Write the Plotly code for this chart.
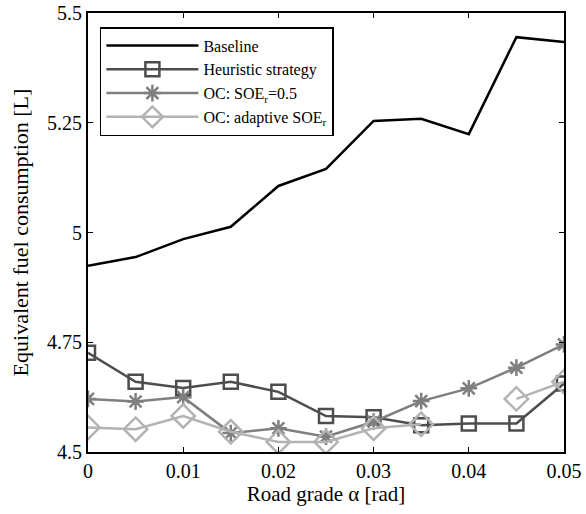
import plotly.graph_objects as go

# Road grade [rad]
grade = [0, 0.005, 0.01, 0.015, 0.02, 0.025, 0.03, 0.035, 0.04, 0.045, 0.05]

# Equivalent fuel consumption [L]
baseline = [4.924, 4.944, 4.985, 5.013, 5.106, 5.145, 5.254, 5.259, 5.224, 5.445, 5.434]
heuristic = [4.726, 4.660, 4.646, 4.660, 4.637, 4.582, 4.579, 4.561, 4.565, 4.565, 4.656]
oc_soe05 = [4.621, 4.615, 4.625, 4.543, 4.554, 4.535, 4.569, 4.616, 4.645, 4.692, 4.745]
oc_adaptive = [4.556, 4.552, 4.582, 4.546, 4.523, 4.523, 4.554, 4.563, None, 4.621, 4.660]

x_ticks = [0, 0.01, 0.02, 0.03, 0.04, 0.05]
y_ticks = [4.5, 4.75, 5, 5.25, 5.5]
y_tick_text = ["4.5", "4.75", "5", "5.25", "5.5"]

FONT = "Liberation Serif"

fig = go.Figure()
fig.add_trace(go.Scatter(
    x=grade, y=baseline, mode="lines", name="Baseline",
    line=dict(color="#000000", width=2.5),
))
fig.add_trace(go.Scatter(
    x=grade, y=heuristic, mode="lines+markers", name="Heuristic strategy",
    line=dict(color="#4d4d4d", width=2.5),
    marker=dict(symbol="square-open", size=14, color="#4d4d4d", line=dict(width=2.5)),
))
fig.add_trace(go.Scatter(
    x=grade, y=oc_soe05, mode="lines+markers", name="OC: SOE<sub>r</sub>=0.5",
    line=dict(color="#7f7f7f", width=2.5),
    marker=dict(symbol="asterisk-open", size=14, color="#7f7f7f", line=dict(width=2.5, color="#7f7f7f")),
))
fig.add_trace(go.Scatter(
    x=grade, y=oc_adaptive, mode="lines+markers", name="OC: adaptive SOE<sub>r</sub>",
    connectgaps=False,
    line=dict(color="#b3b3b3", width=2.5),
    marker=dict(symbol="diamond-open", size=18, color="#b3b3b3", line=dict(width=2.5)),
))

fig.update_layout(
    width=586, height=514,
    margin=dict(l=88, r=22, t=13, b=62),
    plot_bgcolor="white", paper_bgcolor="white",
    font=dict(family=FONT, size=20, color="black"),
    showlegend=True,
    legend=dict(
        x=0.025, y=0.968, xanchor="left", yanchor="top",
        bgcolor="white", bordercolor="black", borderwidth=1.5,
        font=dict(family=FONT, size=16, color="black"),
        itemwidth=92, tracegroupgap=0,
    ),
)
fig.update_xaxes(
    range=[0, 0.05], tickvals=x_ticks, ticktext=[f"{v:g}" for v in x_ticks],
    ticks="inside", ticklen=5, tickwidth=1, tickcolor="black",
    showline=True, linecolor="black", linewidth=2, mirror="ticks",
    showgrid=False, zeroline=False, tickfont=dict(size=20), automargin=False,
    title=dict(text="Road grade \u03b1 [rad]", font=dict(family=FONT, size=21), standoff=4),
)
fig.update_yaxes(
    range=[4.5, 5.5], tickvals=y_ticks, ticktext=y_tick_text,
    ticks="inside", ticklen=5, tickwidth=1, tickcolor="black",
    showline=True, linecolor="black", linewidth=2, mirror="ticks",
    showgrid=False, zeroline=False, tickfont=dict(size=20), automargin=False,
    title=dict(text="Equivalent fuel consumption [L]", font=dict(family=FONT, size=22), standoff=12),
)

fig.write_html("out.html")
